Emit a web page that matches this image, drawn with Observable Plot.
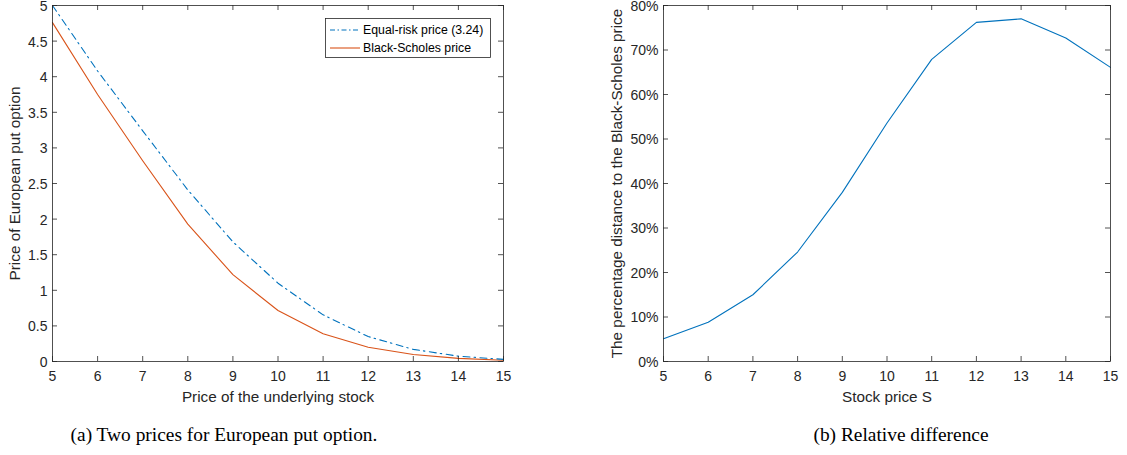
<!DOCTYPE html>
<html><head><meta charset="utf-8">
<script src="https://cdn.jsdelivr.net/npm/d3@7"></script>
<script src="https://cdn.jsdelivr.net/npm/@observablehq/plot@0.6"></script>
<style>
body{margin:0;background:#fff;width:1127px;height:455px;position:relative;overflow:hidden;font-family:"Liberation Sans",Arial,sans-serif;}
#a{position:absolute;left:0;top:0}
#b{position:absolute;left:600px;top:0}
svg{overflow:visible}
.cap{position:absolute;font-family:"Liberation Serif",serif;font-size:19.4px;color:#000;top:424px;white-space:nowrap;transform:translateX(-50%)}
#legend{position:absolute;left:325px;top:18px;}
</style></head><body>
<div id="a"></div><div id="b"></div>
<div id="legend"></div>
<div class="cap" id="capA" style="left:224px"></div>
<div class="cap" id="capB" style="left:901px"></div>
<script>
// ---- data ----
const stock = [5, 6, 7, 8, 9, 10, 11, 12, 13, 14, 15];
const equalRisk = [5.00, 4.08, 3.24, 2.41, 1.68, 1.10, 0.655, 0.35, 0.17, 0.075, 0.03];
const blackScholes = [4.76, 3.75, 2.82, 1.93, 1.22, 0.716, 0.39, 0.20, 0.098, 0.044, 0.017];
const relDiff = [5.1, 8.8, 15.0, 24.6, 38.0, 53.6, 67.9, 76.2, 77.0, 72.7, 66.1];
const xTicks = [5, 6, 7, 8, 9, 10, 11, 12, 13, 14, 15];
const yTicksA = [0, 0.5, 1, 1.5, 2, 2.5, 3, 3.5, 4, 4.5, 5];
const yTicksB = [0, 10, 20, 30, 40, 50, 60, 70, 80];
const seriesNames = ["Equal-risk price (3.24)", "Black-Scholes price"];
const seriesColors = ["#0072BD", "#D95319"];
const seriesDash = ["7,4,1.5,4.5", null];
const legendDash = ["5,2.5,1.5,2.5", null];
const labelsA = {x: "Price of the underlying stock", y: "Price of European put option"};
const labelsB = {x: "Stock price S", y: "The percentage distance to the Black-Scholes price"};
const captions = ["(a) Two prices for European put option.", "(b) Relative difference"];

const axisColor = "#262626";
const fs = 14;
const lfs = 15.3;

function frameMarks(xt, yt, innerW, innerH) {
  const tk = 5;
  const o = {stroke: axisColor, strokeWidth: 0.8};
  return [
    Plot.ruleX(xt, {...o, insetTop: innerH - tk}),
    Plot.ruleX(xt, {...o, insetBottom: innerH - tk}),
    Plot.ruleY(yt, {...o, insetRight: innerW - tk}),
    Plot.ruleY(yt, {...o, insetLeft: innerW - tk}),
    Plot.frame({stroke: axisColor, strokeWidth: 0.8})
  ];
}

function makeChart({width, height, mL, mR, mT, mB, yDomain, yTicks, yFmt, labels, lines, xLabelDy, yLabelDx}) {
  const innerW = width - mL - mR, innerH = height - mT - mB;
  return Plot.plot({
    width, height, marginLeft: mL, marginRight: mR, marginTop: mT, marginBottom: mB,
    style: {fontFamily: '"Liberation Sans", Arial, sans-serif', fontSize: fs + "px", color: axisColor, background: "#fff", overflow: "visible"},
    x: {domain: [5, 15]},
    y: {domain: yDomain},
    marks: [
      ...lines,
      ...frameMarks(xTicks, yTicks, innerW, innerH),
      Plot.axisX(xTicks, {tickSize: 0, tickPadding: 10, tickFormat: d => String(d), fontSize: fs, fill: axisColor, label: null}),
      Plot.axisY(yTicks, {tickSize: 0, tickPadding: 5, dy: 1, tickFormat: yFmt, fontSize: fs, fill: axisColor, label: null}),
      Plot.text([labels.x], {text: d => d, frameAnchor: "bottom", dy: xLabelDy, textAnchor: "middle", lineAnchor: "middle", fontSize: lfs, fill: axisColor}),
      Plot.text([labels.y], {text: d => d, frameAnchor: "left", dx: yLabelDx, rotate: -90, textAnchor: "middle", lineAnchor: "middle", fontSize: lfs, fill: axisColor})
    ]
  });
}

const rowsA = stock.map((s, i) => ({s, v: equalRisk[i]}));
const rowsB = stock.map((s, i) => ({s, v: blackScholes[i]}));
const rowsC = stock.map((s, i) => ({s, v: relDiff[i]}));

const chartA = makeChart({
  width: 520, height: 400, mL: 52, mR: 17, mT: 5, mB: 39,
  yDomain: [0, 5], yTicks: yTicksA, yFmt: d => String(d), labels: labelsA,
  xLabelDy: 36, yLabelDx: -37,
  lines: [
    Plot.line(rowsB, {x: "s", y: "v", stroke: seriesColors[1], strokeWidth: 1.1}),
    Plot.line(rowsA, {x: "s", y: "v", stroke: seriesColors[0], strokeWidth: 1.1, strokeDasharray: seriesDash[0]})
  ]
});
document.getElementById("a").append(chartA);

const chartB = makeChart({
  width: 527, height: 400, mL: 63, mR: 17, mT: 5, mB: 39,
  yDomain: [0, 80], yTicks: yTicksB, yFmt: d => d + "%", labels: labelsB,
  xLabelDy: 36, yLabelDx: -46,
  lines: [
    Plot.line(rowsC, {x: "s", y: "v", stroke: seriesColors[0], strokeWidth: 1.1})
  ]
});
document.getElementById("b").append(chartB);

// legend
const lg = d3.select("#legend").append("svg").attr("width", 166).attr("height", 40)
  .style("font-family", '"Liberation Sans", Arial, sans-serif').style("font-size", "12.3px");
lg.append("rect").attr("x", 0.5).attr("y", 0.5).attr("width", 165).attr("height", 39)
  .attr("fill", "#fff").attr("stroke", axisColor).attr("stroke-width", 0.8);
seriesNames.forEach((n, i) => {
  const y = 12 + i * 18;
  lg.append("line").attr("x1", 5).attr("x2", 35).attr("y1", y).attr("y2", y)
    .attr("stroke", seriesColors[i]).attr("stroke-width", 1.1)
    .attr("stroke-dasharray", legendDash[i]);
  lg.append("text").attr("x", 38).attr("y", y + 4.3).attr("fill", "#000").text(n);
});

document.getElementById("capA").textContent = captions[0];
document.getElementById("capB").textContent = captions[1];
</script>
</body></html>
